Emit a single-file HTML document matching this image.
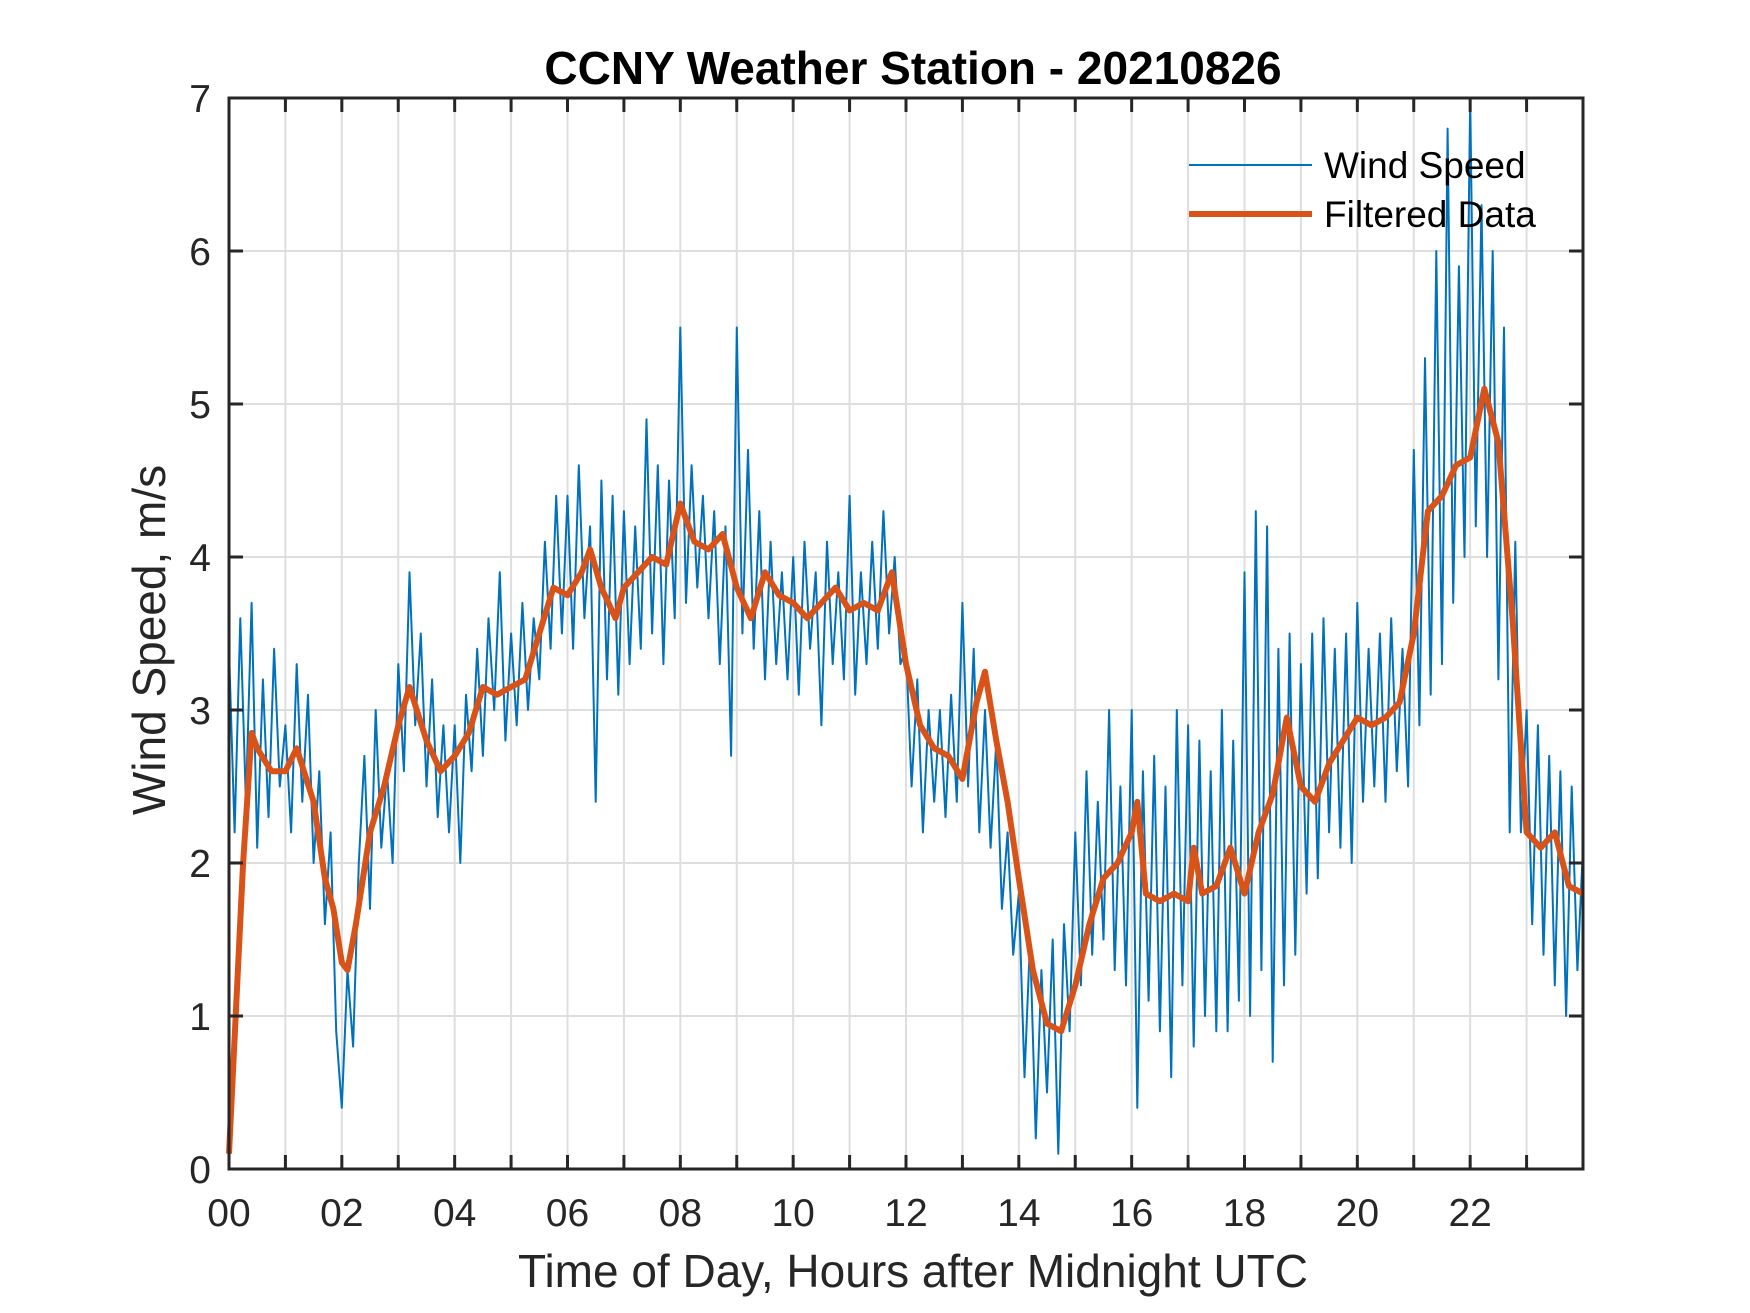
<!DOCTYPE html>
<html><head><meta charset="utf-8"><style>
html,body{margin:0;padding:0;background:#fff;}
svg{display:block;font-family:"Liberation Sans",Arial,sans-serif;}
</style></head><body>
<svg id="chart" width="1750" height="1313" viewBox="0 0 1750 1313" xmlns="http://www.w3.org/2000/svg">
<rect x="0" y="0" width="1750" height="1313" fill="#fff"/>
<g id="grid"></g>
<g id="series"></g>
<g id="axes"></g>
<text x="913" y="84" text-anchor="middle" font-size="46" font-weight="bold" fill="#000">CCNY Weather Station - 20210826</text>
<text x="913" y="1287" text-anchor="middle" font-size="46" fill="#262626">Time of Day, Hours after Midnight UTC</text>
<text transform="translate(165,640) rotate(-90)" text-anchor="middle" font-size="46" fill="#262626">Wind Speed, m/s</text>
<g>
<line x1="1189" y1="165" x2="1312" y2="165" stroke="#0072BD" stroke-width="2"/>
<text x="1324" y="178" font-size="37" fill="#000">Wind Speed</text>
<line x1="1189" y1="214" x2="1312" y2="214" stroke="#D95319" stroke-width="6"/>
<text x="1324" y="227" font-size="37" fill="#000">Filtered Data</text>
</g>
</svg>
<script>
const xTickLabels = ["00","02","04","06","08","10","12","14","16","18","20","22"];
const yTickLabels = ["0","1","2","3","4","5","6","7"];
// raw wind speed, 0.1 h steps
const windSpeed = [
3.4,2.2,3.6,2.4,3.7,2.1,3.2,2.3,3.4,2.5,
2.9,2.2,3.3,2.4,3.1,2.0,2.6,1.6,2.2,0.9,
0.4,1.3,0.8,2.0,2.7,1.7,3.0,2.1,2.6,2.0,
3.3,2.6,3.9,2.9,3.5,2.5,3.2,2.3,2.9,2.2,
2.9,2.0,3.1,2.6,3.4,2.7,3.6,3.0,3.9,2.8,
3.5,2.9,3.7,3.0,3.6,3.2,4.1,3.4,4.4,3.5,
4.4,3.4,4.6,3.6,4.2,2.4,4.5,3.2,4.4,3.1,
4.3,3.3,4.2,3.4,4.9,3.5,4.6,3.3,4.5,3.6,
5.5,3.7,4.6,3.8,4.4,3.6,4.3,3.3,4.2,2.7,
5.5,3.5,4.7,3.4,4.3,3.2,4.1,3.3,3.9,3.2,
4.0,3.1,4.1,3.4,3.9,2.9,4.1,3.3,3.9,3.2,
4.4,3.1,3.9,3.3,4.1,3.4,4.3,3.5,4.0,3.3,
3.4,2.5,3.2,2.2,3.0,2.4,3.0,2.3,3.1,2.4,
3.7,2.5,3.4,2.2,3.0,2.1,2.8,1.7,2.2,1.4,
1.8,0.6,1.5,0.2,1.3,0.5,1.5,0.1,1.6,0.9,
2.2,1.2,2.6,1.4,2.4,1.5,3.0,1.3,2.5,1.2,
3.0,0.4,2.6,1.1,2.7,0.9,2.5,0.6,3.0,1.2,
2.9,0.8,2.8,1.0,2.6,0.9,3.0,0.9,2.8,1.1,
3.9,1.0,4.3,1.3,4.2,0.7,3.4,1.2,3.5,1.4,
3.3,1.8,3.5,1.9,3.6,2.2,3.4,2.1,3.5,2.0,
3.7,2.4,3.4,2.5,3.5,2.4,3.6,2.6,3.4,2.5,
4.7,2.9,5.3,3.1,6.0,3.3,6.8,3.7,5.9,4.0,
7.0,4.2,6.3,4.0,6.0,3.2,5.5,2.2,4.1,2.2,
3.0,1.6,2.9,1.4,2.7,1.2,2.6,1.0,2.5,1.3,2.1];
const filteredHours = [0,0.25,0.4,0.5,0.75,1.0,1.2,1.5,1.7,1.85,2.0,2.1,2.25,2.5,2.75,3.0,3.2,3.5,3.75,4.0,4.25,4.5,4.75,5.0,5.25,5.5,5.75,6.0,6.25,6.4,6.6,6.85,7.0,7.25,7.5,7.75,8.0,8.25,8.5,8.75,9.0,9.25,9.5,9.75,10.0,10.25,10.5,10.75,11.0,11.25,11.5,11.75,12.0,12.25,12.5,12.75,13.0,13.25,13.4,13.6,13.8,14.0,14.25,14.5,14.75,15.0,15.25,15.5,15.75,16.0,16.1,16.25,16.5,16.75,17.0,17.1,17.25,17.5,17.75,18.0,18.25,18.5,18.75,19.0,19.25,19.5,19.75,20.0,20.25,20.5,20.75,21.0,21.25,21.5,21.75,22.0,22.25,22.5,22.75,23.0,23.25,23.5,23.75,24.0];
const filteredValues = [0.1,2.0,2.85,2.75,2.6,2.6,2.75,2.4,1.9,1.7,1.35,1.3,1.6,2.2,2.5,2.9,3.15,2.8,2.6,2.7,2.85,3.15,3.1,3.15,3.2,3.5,3.8,3.75,3.9,4.05,3.8,3.6,3.8,3.9,4.0,3.95,4.35,4.1,4.05,4.15,3.8,3.6,3.9,3.75,3.7,3.6,3.7,3.8,3.65,3.7,3.65,3.9,3.3,2.9,2.75,2.7,2.55,3.05,3.25,2.8,2.4,1.9,1.3,0.95,0.9,1.2,1.6,1.9,2.0,2.2,2.4,1.8,1.75,1.8,1.75,2.1,1.8,1.85,2.1,1.8,2.2,2.45,2.95,2.5,2.4,2.65,2.8,2.95,2.9,2.95,3.05,3.5,4.3,4.4,4.6,4.65,5.1,4.75,3.6,2.2,2.1,2.2,1.85,1.8];

const NS="http://www.w3.org/2000/svg";
const L=229,R=1583,T=98,B=1169;
const X0=0,X1=24,Y0=0,Y1=7;
function xs(h){return L+(h-X0)/(X1-X0)*(R-L);}
function ys(v){return B-(v-Y0)/(Y1-Y0)*(B-T);}
function mk(tag,attrs,parent){const e=document.createElementNS(NS,tag);for(const k in attrs)e.setAttribute(k,attrs[k]);parent.appendChild(e);return e;}
const grid=document.getElementById('grid'),axes=document.getElementById('axes'),series=document.getElementById('series');
for(let h=1;h<24;h++){
  const g=mk('line',{x1:xs(h),x2:xs(h),y1:T,y2:B,stroke:'#dedede','stroke-width':2},grid);
  
  
  [[B,B-14],[T,T+14]].forEach(p=>{const t=mk('line',{x1:xs(h),x2:xs(h),y1:p[0],y2:p[1],stroke:'#262626','stroke-width':3},axes);
    
    });
}
for(let v=1;v<7;v++){
  const g=mk('line',{x1:L,x2:R,y1:ys(v),y2:ys(v),stroke:'#dedede','stroke-width':2},grid);
  
  
  [[L,L+14],[R,R-14]].forEach(p=>{const t=mk('line',{x1:p[0],x2:p[1],y1:ys(v),y2:ys(v),stroke:'#262626','stroke-width':3},axes);
    
    });
}
xTickLabels.forEach((s,i)=>{const t=mk('text',{x:xs(i*2),y:1226,'text-anchor':'middle','font-size':39,fill:'#262626'},axes);t.textContent=s;
  
  });
yTickLabels.forEach((s,i)=>{const t=mk('text',{x:211,y:ys(i)+14,'text-anchor':'end','font-size':39,fill:'#262626'},axes);t.textContent=s;
  
  });
const box=mk('rect',{x:L,y:T,width:R-L,height:B-T,fill:'none',stroke:'#262626','stroke-width':3},axes);


const wp=windSpeed.map((v,i)=>xs(Math.min(i*0.1,24)).toFixed(1)+','+ys(v).toFixed(1)).join(' ');
const w=mk('polyline',{points:wp,fill:'none',stroke:'#0072BD','stroke-width':2,'stroke-linejoin':'round'},series);


const fp=filteredValues.map((v,i)=>xs(filteredHours[i]).toFixed(1)+','+ys(v).toFixed(1)).join(' ');
const f=mk('polyline',{points:fp,fill:'none',stroke:'#D95319','stroke-width':6,'stroke-linejoin':'round'},series);


</script>
</body></html>
